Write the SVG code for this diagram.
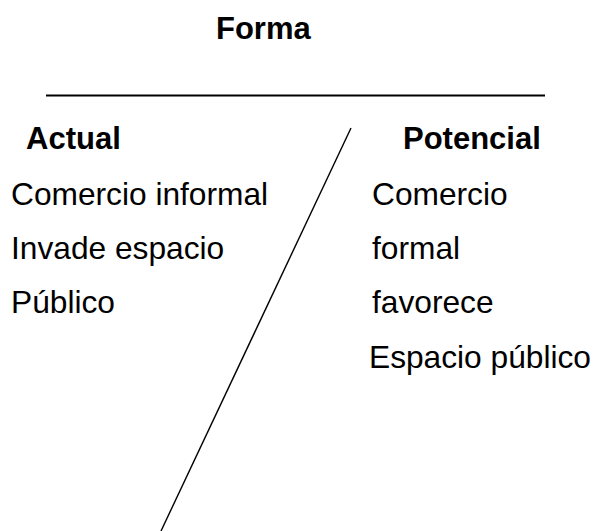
<svg xmlns="http://www.w3.org/2000/svg" width="596" height="531" viewBox="0 0 596 531">
<style>
text{font-family:"Liberation Sans",Arial,sans-serif;fill:#000}
.b{font-weight:bold;font-size:31px}
.r{font-size:31.7px}
.ln{stroke:#000;fill:none}
</style>
<rect width="596" height="531" fill="#fff"/>
<g id="title"><text class="b" x="216" y="39">Forma</text></g>
<g id="connectors">
<line class="ln" x1="46" y1="95.5" x2="545" y2="95.5" stroke-width="2"/>
<line class="ln" x1="351" y1="128" x2="161" y2="531" stroke-width="1.4"/>
</g>
<g id="actual">
<text class="b" x="26" y="149">Actual</text>
<text class="r" x="11" y="205">Comercio informal</text>
<text class="r" x="11" y="259">Invade espacio</text>
<text class="r" x="11" y="313">Público</text>
</g>
<g id="potencial">
<text class="b" x="403" y="149">Potencial</text>
<text class="r" x="372" y="205">Comercio</text>
<text class="r" x="372" y="259">formal</text>
<text class="r" x="372" y="313">favorece</text>
<text class="r" x="369" y="368">Espacio público</text>
</g>
</svg>
